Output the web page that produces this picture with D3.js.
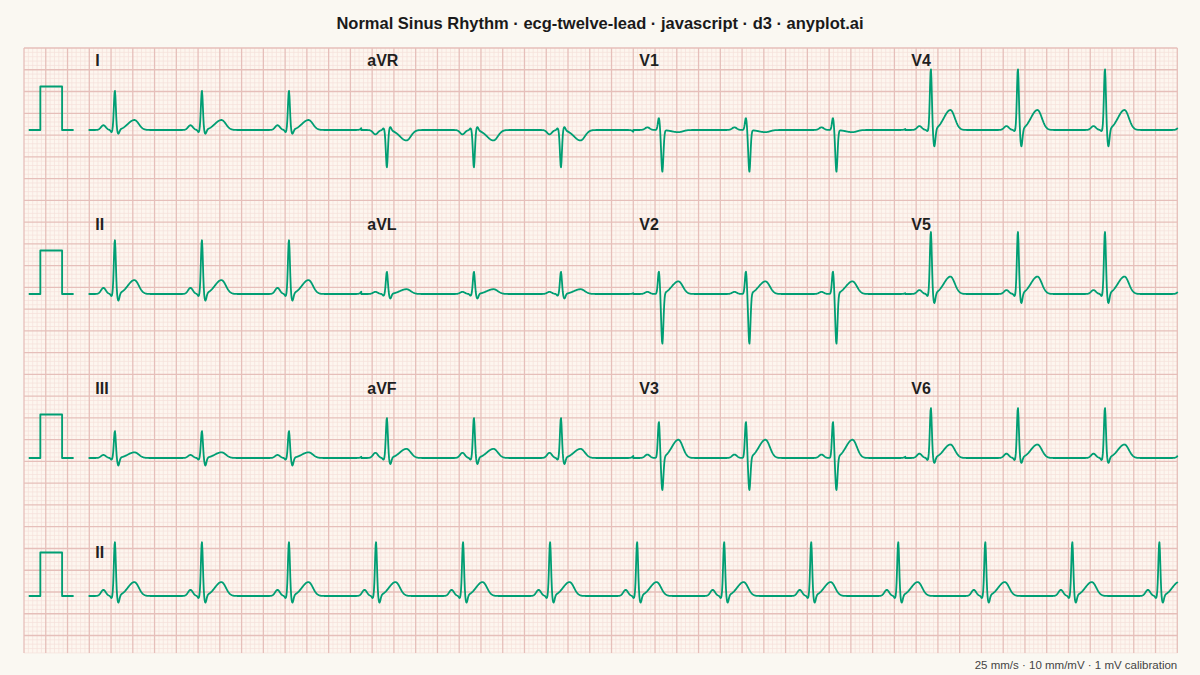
<!DOCTYPE html>
<html>
<head>
<meta charset="utf-8">
<script src="https://cdn.jsdelivr.net/npm/d3@7"></script>
<style>
  body { margin: 0; background: #faf8f2; }
  svg { display: block; font-family: "Liberation Sans", Arial, sans-serif; }
</style>
</head>
<body>
<svg id="chart"></svg>
<script>
const leads = ["I", "II", "III", "aVR", "aVL", "aVF", "V1", "V2", "V3", "V4", "V5", "V6"];
const pAmp = [0.11, 0.14, 0.07, -0.10, 0.05, 0.12, 0.06, 0.05, 0.08, 0.09, 0.09, 0.10];
const qAmp = [-0.05, -0.05, -0.04, 0.04, -0.04, -0.04, 0.00, 0.00, 0.00, -0.03, -0.05, -0.05];
const rAmp = [0.90, 1.24, 0.62, -0.86, 0.51, 0.92, 0.28, 0.52, 0.83, 1.40, 1.43, 1.15];
const sAmp = [-0.10, -0.17, -0.18, 0.08, -0.11, -0.15, -0.96, -1.16, -0.76, -0.40, -0.23, -0.13];
const tAmp = [0.23, 0.32, 0.13, -0.24, 0.11, 0.21, -0.05, 0.29, 0.42, 0.46, 0.40, 0.31];

// wave timing relative to the R peak (s)
const waveCenter = [-0.105, -0.03, 0, 0.032, 0.18];
const waveSigma = [0.022, 0.008, 0.009, 0.01, 0.04];
const tSigmaLeft = 0.06;

// 12-lead layout, 2.5 s per column, plus a 10 s rhythm strip
const layoutRows = [
  ["I", "aVR", "V1", "V4"],
  ["II", "aVL", "V2", "V5"],
  ["III", "aVF", "V3", "V6"]
];
const rhythmLead = "II";
const columnBeats = [0.235, 1.035, 1.835, 2.635];
const rhythmBeats = [0.235, 1.035, 1.835, 2.635, 3.435, 4.235, 5.035, 5.835, 6.635, 7.435, 8.235, 9.035, 9.835];

// 1 mV calibration pulse (s, mV)
const calTimes = [-0.55, -0.45, -0.45, -0.25, -0.25, -0.15];
const calMv = [0, 0, 1, 1, 0, 0];

const title = "Normal Sinus Rhythm · ecg-twelve-lead · javascript · d3 · anyplot.ai";
const footer = "25 mm/s · 10 mm/mV · 1 mV calibration";

const width = 1200, height = 675;
const mm = 4.352;
const gridLeft = 24, gridTop = 48, gridWmm = 265, gridHmm = 139;
const rowBaselines = [130, 294, 458, 596];
const traceColor = "#009E73";

const svg = d3.select("#chart").attr("width", width).attr("height", height);
svg.append("rect").attr("width", width).attr("height", height).attr("fill", "#faf8f2");

const xMm = d3.scaleLinear().domain([0, gridWmm]).range([gridLeft, gridLeft + gridWmm * mm]);
const yMm = d3.scaleLinear().domain([0, gridHmm]).range([gridTop, gridTop + gridHmm * mm]);
const xT = d3.scaleLinear().domain([0, 10]).range([xMm(15), xMm(15 + 250)]);

// paper
svg.append("rect")
  .attr("x", xMm(0)).attr("y", yMm(0))
  .attr("width", xMm(gridWmm) - xMm(0)).attr("height", yMm(gridHmm) - yMm(0))
  .attr("fill", "#fdf6ef");

const grid = svg.append("g");
const vMm = d3.range(0, gridWmm + 1);
const hMm = d3.range(0, gridHmm + 1);
[false, true].forEach(major => {
  const g = grid.append("g")
    .attr("stroke", major ? "#e6bfba" : "#f5e0da")
    .attr("stroke-width", major ? 1.3 : 0.7);
  g.selectAll("line.v").data(vMm.filter(d => (d % 5 === 0) === major)).enter().append("line")
    .attr("x1", d => xMm(d)).attr("x2", d => xMm(d))
    .attr("y1", yMm(0)).attr("y2", yMm(gridHmm));
  g.selectAll("line.h").data(hMm.filter(d => (d % 5 === 0) === major)).enter().append("line")
    .attr("y1", d => yMm(d)).attr("y2", d => yMm(d))
    .attr("x1", xMm(0)).attr("x2", xMm(gridWmm));
});

const amps = [pAmp, qAmp, rAmp, sAmp, tAmp];
function leadValue(name, t, beats) {
  const li = leads.indexOf(name);
  let v = 0;
  beats.forEach(b => {
    const d = t - b;
    waveCenter.forEach((c, w) => {
      const s = (w === 4 && d < c) ? tSigmaLeft : waveSigma[w];
      v += amps[w][li] * Math.exp(-0.5 * ((d - c) / s) ** 2);
    });
  });
  return v;
}

const step = 0.004;
const line = d3.line();
const traces = svg.append("g")
  .attr("fill", "none")
  .attr("stroke", traceColor)
  .attr("stroke-width", 1.8)
  .attr("stroke-linejoin", "round")
  .attr("stroke-linecap", "round");

function drawRow(rowIdx, segments, labelDy) {
  const base = rowBaselines[rowIdx];
  const y = d3.scaleLinear().domain([0, 1]).range([base, base - 10 * mm]);

  traces.append("path")
    .attr("d", line(calTimes.map((t, i) => [xT(t), y(calMv[i])])));

  const pts = [];
  segments.forEach(seg => {
    d3.range(0, seg.dur + step / 2, step).forEach(t => {
      pts.push([xT(seg.start + t), y(leadValue(seg.lead, t, seg.beats))]);
    });
  });
  traces.append("path").attr("d", line(pts));

  svg.selectAll(null).data(segments).enter().append("text")
    .attr("x", d => xT(d.start) + 6)
    .attr("y", base + labelDy)
    .attr("font-size", 16)
    .attr("font-weight", "bold")
    .attr("fill", "#1f1f1f")
    .text(d => d.lead);
}

layoutRows.forEach((row, r) => {
  drawRow(r, row.map((lead, c) => ({ lead, start: c * 2.5, dur: 2.5, beats: columnBeats })), -64);
});
drawRow(3, [{ lead: rhythmLead, start: 0, dur: 10, beats: rhythmBeats }], -38);

svg.append("text")
  .attr("x", width / 2).attr("y", 29)
  .attr("text-anchor", "middle")
  .attr("font-size", 16.5)
  .attr("font-weight", "bold")
  .attr("fill", "#1a1a1a")
  .text(title);

svg.append("text")
  .attr("x", xMm(gridWmm)).attr("y", 669)
  .attr("text-anchor", "end")
  .attr("font-size", 11.5)
  .attr("fill", "#444")
  .text(footer);
</script>
</body>
</html>
